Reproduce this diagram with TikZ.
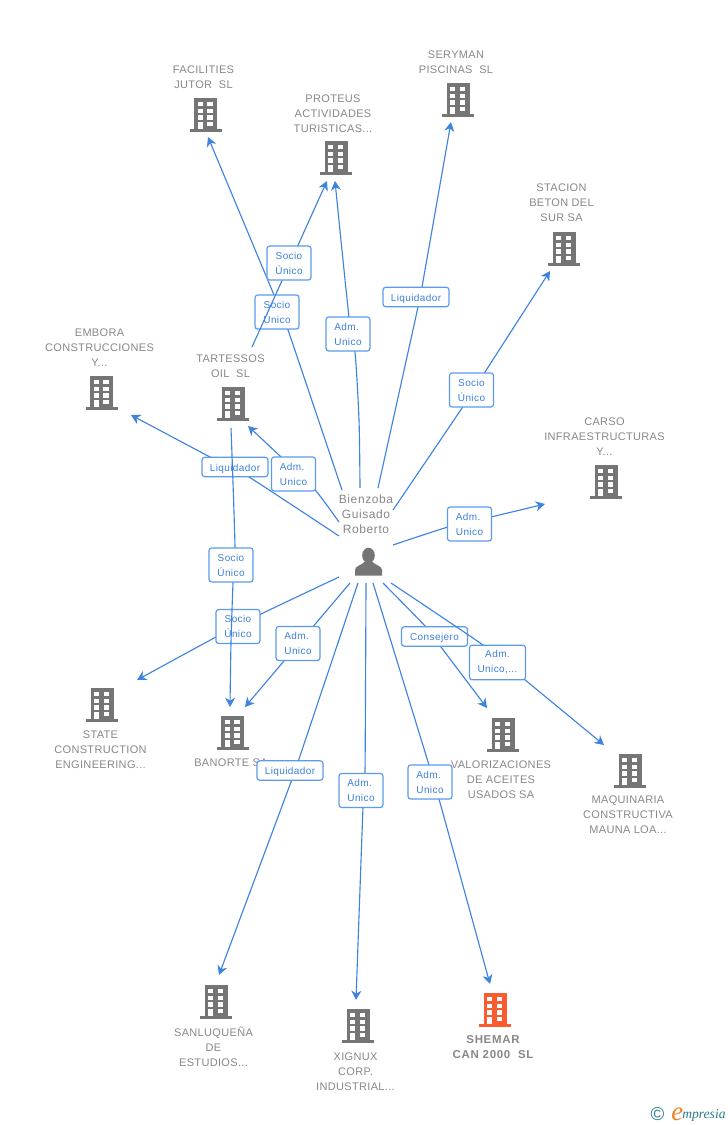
\documentclass[tikz,border=0pt]{standalone}
\usepackage{fontspec}
\setmainfont{Liberation Sans}
\newfontfamily\namefont[LetterSpace=3]{Liberation Sans}
\newfontfamily\boldnamefont[LetterSpace=6]{Liberation Sans}
\newfontfamily\personfont[LetterSpace=5]{Liberation Sans}
\newfontfamily\labfont[LetterSpace=4]{Liberation Sans}
\newfontfamily\logofont{Liberation Serif}
\usetikzlibrary{arrows.meta}
\definecolor{edgeblue}{HTML}{3F83E0}
\definecolor{boxblue}{HTML}{5C9BEA}
\definecolor{labblue}{HTML}{3D80DC}
\definecolor{icongray}{HTML}{757575}
\definecolor{textgray}{HTML}{888888}
\definecolor{iconorange}{HTML}{FA5C30}
\definecolor{logoteal}{HTML}{2A7C8E}
\definecolor{logoorange}{HTML}{F08020}
\tikzset{
  x=0.75pt,y=-0.75pt,
  edge/.style={draw=edgeblue,line width=0.85pt,-{Stealth[length=7pt,width=7.5pt,inset=2.2pt]}},
  lab/.style={draw=boxblue,line width=0.9pt,rounded corners=2pt,fill=white,text=labblue,inner sep=0pt,font=\labfont\fontsize{7.5}{11.25}\selectfont},
  labtwo/.style={lab,align=center,minimum width=33pt,minimum height=25.5pt},
  labadm/.style={lab,align=left,minimum width=33pt,minimum height=25.5pt},
  labone/.style={lab,align=center,minimum width=49.5pt,minimum height=14.5pt,text height=6pt,text depth=0pt},
  labwide/.style={lab,align=center,minimum width=42pt,minimum height=26pt},
  co/.style={text=textgray,align=center,inner sep=0pt,yshift=-0.75pt,font=\namefont\fontsize{8.25}{11.25}\selectfont},
  cobold/.style={text=textgray,align=center,inner sep=0pt,yshift=-0.5pt,font=\boldnamefont\bfseries\fontsize{8.6}{11.25}\selectfont},
  person/.style={text=textgray,align=center,inner sep=0pt,font=\personfont\fontsize{9}{11.25}\selectfont},
  pics/bld/.style={code={
    \fill[#1] (-11.5,0) rectangle (11.5,31);
    \fill[#1] (-16,31) rectangle (16,34);
    \foreach \yy in {3.8,10.5,17.2}{
      \fill[white] (-7.8,\yy) rectangle (-2.6,\yy+4.4);
      \fill[white] (1.8,\yy) rectangle (7,\yy+4.4);
    }
    \fill[white] (-7.8,24) rectangle (-2.6,31);
    \fill[white] (1.8,24) rectangle (7,28.4);
  }}
}
\begin{document}
\begin{tikzpicture}
\useasboundingbox (0,0) rectangle (728,1125);
\fill[white] (0,0) rectangle (728,1125);
% buildings
\pic at (205.5,98) {bld=icongray};
\pic at (336,141) {bld=icongray};
\pic at (458,83) {bld=icongray};
\pic at (564,232) {bld=icongray};
\pic at (101.5,376) {bld=icongray};
\pic at (233,387) {bld=icongray};
\pic at (606,465) {bld=icongray};
\pic at (102,688) {bld=icongray};
\pic at (232.5,716) {bld=icongray};
\pic at (503,718) {bld=icongray};
\pic at (630,754) {bld=icongray};
\pic at (216,985) {bld=icongray};
\pic at (358,1009) {bld=icongray};
\pic at (495,993) {bld=iconorange};
% names
\node[co] (facilities) at (203.5,76.5) {FACILITIES\\JUTOR\ \ SL};
\node[co] (proteus) at (333,113) {PROTEUS\\ACTIVIDADES\\TURISTICAS...};
\node[co] (seryman) at (456,61.5) {SERYMAN\\PISCINAS\ \ SL};
\node[co] (stacion) at (561.5,202) {STACION\\BETON DEL\\SUR SA};
\node[co] (embora) at (99.5,347) {EMBORA\\CONSTRUCCIONES\\Y...};
\node[co] (tartessos) at (230.5,365.5) {TARTESSOS\\OIL\ \ SL};
\node[co] (carso) at (604.5,436) {CARSO\\INFRAESTRUCTURAS\\Y...};
\node[co] (state) at (100.5,749) {STATE\\CONSTRUCTION\\ENGINEERING...};
\node[co] (banorte) at (231,762) {BANORTE SA};
\node[co] (valor) at (501,779) {VALORIZACIONES\\DE ACEITES\\USADOS SA};
\node[co] (maquinaria) at (628,814) {MAQUINARIA\\CONSTRUCTIVA\\MAUNA LOA...};
\node[co] (sanluquena) at (213.5,1046) {SANLUQUEÑA\\DE\\ESTUDIOS...};
\node[co] (xignux) at (355.5,1071) {XIGNUX\\CORP.\\INDUSTRIAL...};
\node[cobold] (shemar) at (493,1046.5) {SHEMAR\\CAN 2000\ \ SL};
\node[person] (root) at (366,514) {Bienzoba\\Guisado\\Roberto};
% person icon
\fill[icongray] (368.5,555.5) ellipse (6.3 and 7.8);
\fill[icongray] (355,575.5) -- (355,570) .. controls (355,566) and (361,565.5) .. (364.5,562) -- (372.5,562) .. controls (376,565.5) and (382,566) .. (382,570) -- (382,575.5) -- cycle;
% connector ends
\coordinate (aFac) at (342,490); \coordinate (bFac) at (208,137);
\coordinate (aPro1) at (252,347); \coordinate (bPro1) at (327,181);
\coordinate (aPro2) at (360,488); \coordinate (bPro2) at (335,181);
\coordinate (aSer) at (378,488); \coordinate (bSer) at (451,122);
\coordinate (aSta) at (393,510); \coordinate (bSta) at (550,271);
\coordinate (aCar) at (393,545); \coordinate (bCar) at (545,504);
\coordinate (aEmb) at (339,536); \coordinate (bEmb) at (131,415);
\coordinate (aTar) at (339,522); \coordinate (bTar) at (248,426);
\coordinate (aBan1) at (231,428); \coordinate (bBan1) at (230,707);
\coordinate (aSta2) at (339,577); \coordinate (bSta2) at (137,680);
\coordinate (aBan2) at (350,583); \coordinate (bBan2) at (245,707);
\coordinate (aSan) at (358,583); \coordinate (bSan) at (219,975);
\coordinate (aXig) at (366,583); \coordinate (bXig) at (356,1000);
\coordinate (aShe) at (373,583); \coordinate (bShe) at (490,984);
\coordinate (aVal) at (383,583); \coordinate (bVal) at (487,708);
\coordinate (aMaq) at (391,583); \coordinate (bMaq) at (604,745);
% edges with their labels
\draw[edge] plot[smooth,tension=0.3] coordinates {(aEmb) (249,477) (210,457) (bEmb)};
\node[labone] (lEmb) at (235,467) {Liquidador};
\draw[edge] plot[smooth,tension=0.3] coordinates {(aTar) (316,491) (280,456) (bTar)};
\node[labadm] (lTar) at (293.5,474) {Adm.\\Unico};
\draw[edge] plot[smooth,tension=0.4] coordinates {(aFac) (288,330) (274,295) (bFac)};
\node[labtwo] (lFac) at (277,312) {Socio\\Único};
\draw[edge] (aPro1) -- (bPro1);
\node[labtwo] (lPro1) at (289,263) {Socio\\Único};
\draw[edge] plot[smooth,tension=0.5] coordinates {(aPro2) (359,420) (355,352) (349,317) (bPro2)};
\node[labadm] (lPro2) at (348,334) {Adm.\\Unico};
\draw[edge] plot[smooth,tension=0.4] coordinates {(aSer) (418,307) (422,287) (bSer)};
\node[labone] (lSer) at (416,297) {Liquidador};
\draw[edge] plot[smooth,tension=0.4] coordinates {(aSta) (462,408) (485,372) (bSta)};
\node[labtwo] (lSta) at (471.5,390) {Socio\\Único};
\draw[edge] plot[smooth,tension=0.4] coordinates {(aCar) (448,527) (491,517) (bCar)};
\node[labadm] (lCar) at (469.5,524) {Adm.\\Unico};
\draw[edge] plot[smooth,tension=0.4] coordinates {(aSta2) (261,614) (216,637) (bSta2)};
\node[labtwo] (lSta2) at (238,626.5) {Socio\\Único};
\draw[edge] plot[smooth,tension=0.5] coordinates {(aBan1) (235,548) (233,583) (231,643) (bBan1)};
\node[labtwo] (lBan1) at (231,565) {Socio\\Único};
\draw[edge] (aBan2) -- (bBan2);
\node[labadm] (lBan2) at (298,643.5) {Adm.\\Unico};
\draw[edge] plot[smooth,tension=0.4] coordinates {(aSan) (298,762) (291,782) (bSan)};
\node[labone] (lSan) at (290,770.5) {Liquidador};
\draw[edge] plot[smooth,tension=0.4] coordinates {(aXig) (365,773) (363,807) (bXig)};
\node[labadm] (lXig) at (361,790.5) {Adm.\\Unico};
\draw[edge] plot[smooth,tension=0.4] coordinates {(aShe) (429,765) (439,799) (bShe)};
\node[labadm] (lShe) at (430,782) {Adm.\\Unico};
\draw[edge] plot[smooth,tension=0.4] coordinates {(aVal) (426,627) (441,647) (bVal)};
\node[labone] (lVal) at (434.5,636.5) {Consejero};
\draw[edge] plot[smooth,tension=0.3] coordinates {(aMaq) (483,645) (524,679) (bMaq)};
\node[labwide] (lMaq) at (497.5,662.5) {Adm.\\Unico,...};
% logo
\node[text=logoteal,inner sep=0pt,font=\fontsize{14}{14}\selectfont] (copy) at (657.5,1114) {©};
\node[anchor=base west,inner sep=0pt,text=logoorange,font=\logofont\itshape\fontsize{20}{20}\selectfont] (logoe) at (671,1120) {e};
\node[anchor=base west,inner sep=0pt,text=logoteal,font=\logofont\itshape\fontsize{10.2}{10}\selectfont] (logot) at (682,1118.5) {mpresia};
\end{tikzpicture}
\end{document}
